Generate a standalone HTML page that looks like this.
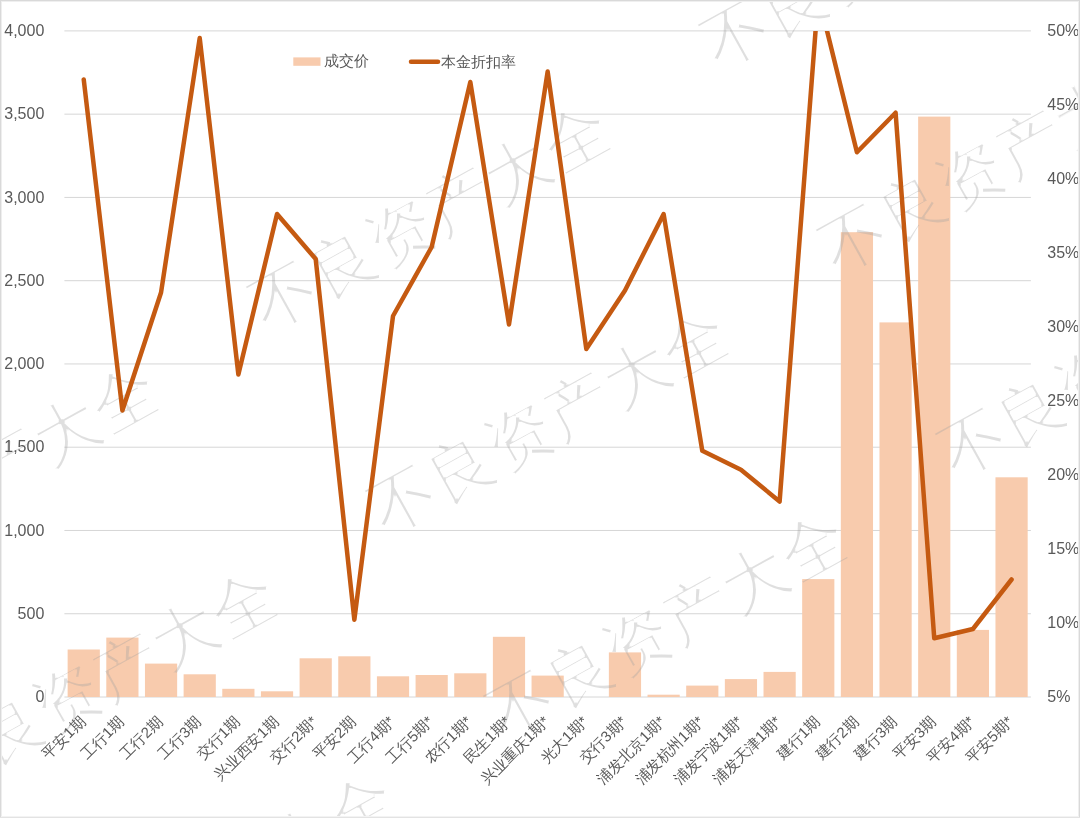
<!DOCTYPE html>
<html><head><meta charset="utf-8"><style>
html,body{margin:0;padding:0;background:#fff;}
body{width:1080px;height:818px;overflow:hidden;position:relative;font-family:"Liberation Sans",sans-serif;}
svg{position:absolute;left:0;top:0;}
.ax{font-family:"Liberation Sans",sans-serif;font-size:16px;fill:#595959;}
.lg{font-family:"Liberation Sans",sans-serif;font-size:15px;fill:#595959;}
.cat{font-family:"Liberation Sans",sans-serif;font-size:15px;fill:#595959;}
.wm{font-family:"Liberation Serif",serif;font-size:66px;fill:#a0a0a0;fill-opacity:0.34;}
</style></head><body>
<svg width="1080" height="818" viewBox="0 0 1080 818">
<rect x="0" y="0" width="1080" height="818" fill="#fff"/>

<line x1="64.4" y1="697.00" x2="1030.9" y2="697.00" stroke="#d6d6d6" stroke-width="1"/>
<line x1="64.4" y1="613.74" x2="1030.9" y2="613.74" stroke="#d6d6d6" stroke-width="1"/>
<line x1="64.4" y1="530.48" x2="1030.9" y2="530.48" stroke="#d6d6d6" stroke-width="1"/>
<line x1="64.4" y1="447.21" x2="1030.9" y2="447.21" stroke="#d6d6d6" stroke-width="1"/>
<line x1="64.4" y1="363.95" x2="1030.9" y2="363.95" stroke="#d6d6d6" stroke-width="1"/>
<line x1="64.4" y1="280.69" x2="1030.9" y2="280.69" stroke="#d6d6d6" stroke-width="1"/>
<line x1="64.4" y1="197.42" x2="1030.9" y2="197.42" stroke="#d6d6d6" stroke-width="1"/>
<line x1="64.4" y1="114.16" x2="1030.9" y2="114.16" stroke="#d6d6d6" stroke-width="1"/>
<line x1="64.4" y1="30.90" x2="1030.9" y2="30.90" stroke="#d6d6d6" stroke-width="1"/>
<rect x="67.63" y="649.50" width="32.20" height="47.50" fill="#f8cbad"/>
<rect x="106.29" y="637.60" width="32.20" height="59.40" fill="#f8cbad"/>
<rect x="144.95" y="663.60" width="32.20" height="33.40" fill="#f8cbad"/>
<rect x="183.61" y="674.30" width="32.20" height="22.70" fill="#f8cbad"/>
<rect x="222.27" y="688.80" width="32.20" height="8.20" fill="#f8cbad"/>
<rect x="260.93" y="691.30" width="32.20" height="5.70" fill="#f8cbad"/>
<rect x="299.59" y="658.30" width="32.20" height="38.70" fill="#f8cbad"/>
<rect x="338.25" y="656.30" width="32.20" height="40.70" fill="#f8cbad"/>
<rect x="376.91" y="676.30" width="32.20" height="20.70" fill="#f8cbad"/>
<rect x="415.57" y="675.00" width="32.20" height="22.00" fill="#f8cbad"/>
<rect x="454.23" y="673.30" width="32.20" height="23.70" fill="#f8cbad"/>
<rect x="492.89" y="636.80" width="32.20" height="60.20" fill="#f8cbad"/>
<rect x="531.55" y="675.60" width="32.20" height="21.40" fill="#f8cbad"/>
<rect x="608.87" y="652.40" width="32.20" height="44.60" fill="#f8cbad"/>
<rect x="647.53" y="694.70" width="32.20" height="2.30" fill="#f8cbad"/>
<rect x="686.19" y="685.60" width="32.20" height="11.40" fill="#f8cbad"/>
<rect x="724.85" y="679.10" width="32.20" height="17.90" fill="#f8cbad"/>
<rect x="763.51" y="671.90" width="32.20" height="25.10" fill="#f8cbad"/>
<rect x="802.17" y="579.10" width="32.20" height="117.90" fill="#f8cbad"/>
<rect x="840.83" y="232.20" width="32.20" height="464.80" fill="#f8cbad"/>
<rect x="879.49" y="322.40" width="32.20" height="374.60" fill="#f8cbad"/>
<rect x="918.15" y="116.60" width="32.20" height="580.40" fill="#f8cbad"/>
<rect x="956.81" y="629.90" width="32.20" height="67.10" fill="#f8cbad"/>
<rect x="995.47" y="477.30" width="32.20" height="219.70" fill="#f8cbad"/>
<filter id="thin" x="-5%" y="-5%" width="110%" height="110%"><feMorphology operator="erode" radius="0.85"/></filter><g class="wm" filter="url(#thin)"><text x="-50.5" y="494.3" text-anchor="middle" dominant-baseline="central" transform="rotate(-29 -50.5 494.3)">资</text><text x="8.0" y="462.8" text-anchor="middle" dominant-baseline="central" transform="rotate(-29 8.0 462.8)">产</text><text x="66.5" y="431.3" text-anchor="middle" dominant-baseline="central" transform="rotate(-29 66.5 431.3)">大</text><text x="125.0" y="399.8" text-anchor="middle" dominant-baseline="central" transform="rotate(-29 125.0 399.8)">全</text><text x="-49.0" y="761.8" text-anchor="middle" dominant-baseline="central" transform="rotate(-29 -49.0 761.8)">不</text><text x="9.5" y="730.3" text-anchor="middle" dominant-baseline="central" transform="rotate(-29 9.5 730.3)">良</text><text x="68.0" y="698.8" text-anchor="middle" dominant-baseline="central" transform="rotate(-29 68.0 698.8)">资</text><text x="126.5" y="667.3" text-anchor="middle" dominant-baseline="central" transform="rotate(-29 126.5 667.3)">产</text><text x="185.0" y="635.8" text-anchor="middle" dominant-baseline="central" transform="rotate(-29 185.0 635.8)">大</text><text x="243.5" y="604.3" text-anchor="middle" dominant-baseline="central" transform="rotate(-29 243.5 604.3)">全</text><text x="245.0" y="871.8" text-anchor="middle" dominant-baseline="central" transform="rotate(-29 245.0 871.8)">产</text><text x="303.5" y="840.3" text-anchor="middle" dominant-baseline="central" transform="rotate(-29 303.5 840.3)">大</text><text x="362.0" y="808.8" text-anchor="middle" dominant-baseline="central" transform="rotate(-29 362.0 808.8)">全</text><text x="284.0" y="296.0" text-anchor="middle" dominant-baseline="central" transform="rotate(-29 284.0 296.0)">不</text><text x="342.5" y="264.5" text-anchor="middle" dominant-baseline="central" transform="rotate(-29 342.5 264.5)">良</text><text x="401.0" y="233.0" text-anchor="middle" dominant-baseline="central" transform="rotate(-29 401.0 233.0)">资</text><text x="459.5" y="201.5" text-anchor="middle" dominant-baseline="central" transform="rotate(-29 459.5 201.5)">产</text><text x="518.0" y="170.0" text-anchor="middle" dominant-baseline="central" transform="rotate(-29 518.0 170.0)">大</text><text x="576.5" y="138.5" text-anchor="middle" dominant-baseline="central" transform="rotate(-29 576.5 138.5)">全</text><text x="402.5" y="500.5" text-anchor="middle" dominant-baseline="central" transform="rotate(-29 402.5 500.5)">不</text><text x="461.0" y="469.0" text-anchor="middle" dominant-baseline="central" transform="rotate(-29 461.0 469.0)">良</text><text x="519.5" y="437.5" text-anchor="middle" dominant-baseline="central" transform="rotate(-29 519.5 437.5)">资</text><text x="578.0" y="406.0" text-anchor="middle" dominant-baseline="central" transform="rotate(-29 578.0 406.0)">产</text><text x="636.5" y="374.5" text-anchor="middle" dominant-baseline="central" transform="rotate(-29 636.5 374.5)">大</text><text x="695.0" y="343.0" text-anchor="middle" dominant-baseline="central" transform="rotate(-29 695.0 343.0)">全</text><text x="521.0" y="705.0" text-anchor="middle" dominant-baseline="central" transform="rotate(-29 521.0 705.0)">不</text><text x="579.5" y="673.5" text-anchor="middle" dominant-baseline="central" transform="rotate(-29 579.5 673.5)">良</text><text x="638.0" y="642.0" text-anchor="middle" dominant-baseline="central" transform="rotate(-29 638.0 642.0)">资</text><text x="696.5" y="610.5" text-anchor="middle" dominant-baseline="central" transform="rotate(-29 696.5 610.5)">产</text><text x="755.0" y="579.0" text-anchor="middle" dominant-baseline="central" transform="rotate(-29 755.0 579.0)">大</text><text x="813.5" y="547.5" text-anchor="middle" dominant-baseline="central" transform="rotate(-29 813.5 547.5)">全</text><text x="735.5" y="34.7" text-anchor="middle" dominant-baseline="central" transform="rotate(-29 735.5 34.7)">不</text><text x="794.0" y="3.2" text-anchor="middle" dominant-baseline="central" transform="rotate(-29 794.0 3.2)">良</text><text x="852.5" y="-28.3" text-anchor="middle" dominant-baseline="central" transform="rotate(-29 852.5 -28.3)">资</text><text x="911.0" y="-59.8" text-anchor="middle" dominant-baseline="central" transform="rotate(-29 911.0 -59.8)">产</text><text x="854.0" y="239.2" text-anchor="middle" dominant-baseline="central" transform="rotate(-29 854.0 239.2)">不</text><text x="912.5" y="207.7" text-anchor="middle" dominant-baseline="central" transform="rotate(-29 912.5 207.7)">良</text><text x="971.0" y="176.2" text-anchor="middle" dominant-baseline="central" transform="rotate(-29 971.0 176.2)">资</text><text x="1029.5" y="144.7" text-anchor="middle" dominant-baseline="central" transform="rotate(-29 1029.5 144.7)">产</text><text x="1088.0" y="113.2" text-anchor="middle" dominant-baseline="central" transform="rotate(-29 1088.0 113.2)">大</text><text x="972.5" y="443.7" text-anchor="middle" dominant-baseline="central" transform="rotate(-29 972.5 443.7)">不</text><text x="1031.0" y="412.2" text-anchor="middle" dominant-baseline="central" transform="rotate(-29 1031.0 412.2)">良</text><text x="1089.5" y="380.7" text-anchor="middle" dominant-baseline="central" transform="rotate(-29 1089.5 380.7)">资</text></g>
<clipPath id="pc"><rect x="0" y="30.90" width="1080" height="787.10"/></clipPath>
<polyline clip-path="url(#pc)" points="83.73,79.50 122.39,410.50 161.05,292.50 199.71,38.00 238.37,374.50 277.03,214.00 315.69,259.00 354.35,619.80 393.01,316.00 431.67,247.00 470.33,82.00 508.99,324.50 547.65,71.50 586.31,349.00 624.97,290.50 663.63,214.00 702.29,450.80 740.95,469.70 779.61,501.50 818.27,-4.70 856.93,152.20 895.59,112.70 934.25,638.30 972.91,629.00 1011.57,579.50" fill="none" stroke="#c55a11" stroke-width="4.5" stroke-linejoin="round" stroke-linecap="round"/>
<text class="ax" x="44.3" y="702.20" text-anchor="end">0</text>
<text class="ax" x="44.3" y="618.94" text-anchor="end">500</text>
<text class="ax" x="44.3" y="535.68" text-anchor="end">1,000</text>
<text class="ax" x="44.3" y="452.41" text-anchor="end">1,500</text>
<text class="ax" x="44.3" y="369.15" text-anchor="end">2,000</text>
<text class="ax" x="44.3" y="285.89" text-anchor="end">2,500</text>
<text class="ax" x="44.3" y="202.62" text-anchor="end">3,000</text>
<text class="ax" x="44.3" y="119.36" text-anchor="end">3,500</text>
<text class="ax" x="44.3" y="36.10" text-anchor="end">4,000</text>
<text class="ax" x="1047.3" y="702.20">5%</text>
<text class="ax" x="1047.3" y="628.19">10%</text>
<text class="ax" x="1047.3" y="554.18">15%</text>
<text class="ax" x="1047.3" y="480.17">20%</text>
<text class="ax" x="1047.3" y="406.16">25%</text>
<text class="ax" x="1047.3" y="332.14">30%</text>
<text class="ax" x="1047.3" y="258.13">35%</text>
<text class="ax" x="1047.3" y="184.12">40%</text>
<text class="ax" x="1047.3" y="110.11">45%</text>
<text class="ax" x="1047.3" y="36.10">50%</text>
<rect x="293.3" y="57.4" width="27.2" height="8.4" fill="#f8cbad"/>
<text class="lg" x="323.8" y="66.3">成交价</text>
<line x1="411" y1="61.7" x2="438" y2="61.7" stroke="#c55a11" stroke-width="4.5" stroke-linecap="round"/>
<text class="lg" x="441" y="66.5">本金折扣率</text>
<text class="cat" x="82.23" y="718.50" text-anchor="end" dominant-baseline="central" transform="rotate(-45 82.23 718.50)">平安1期</text>
<text class="cat" x="120.89" y="718.50" text-anchor="end" dominant-baseline="central" transform="rotate(-45 120.89 718.50)">工行1期</text>
<text class="cat" x="159.55" y="718.50" text-anchor="end" dominant-baseline="central" transform="rotate(-45 159.55 718.50)">工行2期</text>
<text class="cat" x="198.21" y="718.50" text-anchor="end" dominant-baseline="central" transform="rotate(-45 198.21 718.50)">工行3期</text>
<text class="cat" x="236.87" y="718.50" text-anchor="end" dominant-baseline="central" transform="rotate(-45 236.87 718.50)">交行1期</text>
<text class="cat" x="275.53" y="718.50" text-anchor="end" dominant-baseline="central" transform="rotate(-45 275.53 718.50)">兴业西安1期</text>
<text class="cat" x="314.19" y="718.50" text-anchor="end" dominant-baseline="central" transform="rotate(-45 314.19 718.50)">交行2期*</text>
<text class="cat" x="352.85" y="718.50" text-anchor="end" dominant-baseline="central" transform="rotate(-45 352.85 718.50)">平安2期</text>
<text class="cat" x="391.51" y="718.50" text-anchor="end" dominant-baseline="central" transform="rotate(-45 391.51 718.50)">工行4期*</text>
<text class="cat" x="430.17" y="718.50" text-anchor="end" dominant-baseline="central" transform="rotate(-45 430.17 718.50)">工行5期*</text>
<text class="cat" x="468.83" y="718.50" text-anchor="end" dominant-baseline="central" transform="rotate(-45 468.83 718.50)">农行1期*</text>
<text class="cat" x="507.49" y="718.50" text-anchor="end" dominant-baseline="central" transform="rotate(-45 507.49 718.50)">民生1期*</text>
<text class="cat" x="546.15" y="718.50" text-anchor="end" dominant-baseline="central" transform="rotate(-45 546.15 718.50)">兴业重庆1期*</text>
<text class="cat" x="584.81" y="718.50" text-anchor="end" dominant-baseline="central" transform="rotate(-45 584.81 718.50)">光大1期*</text>
<text class="cat" x="623.47" y="718.50" text-anchor="end" dominant-baseline="central" transform="rotate(-45 623.47 718.50)">交行3期*</text>
<text class="cat" x="662.13" y="718.50" text-anchor="end" dominant-baseline="central" transform="rotate(-45 662.13 718.50)">浦发北京1期*</text>
<text class="cat" x="700.79" y="718.50" text-anchor="end" dominant-baseline="central" transform="rotate(-45 700.79 718.50)">浦发杭州1期*</text>
<text class="cat" x="739.45" y="718.50" text-anchor="end" dominant-baseline="central" transform="rotate(-45 739.45 718.50)">浦发宁波1期*</text>
<text class="cat" x="778.11" y="718.50" text-anchor="end" dominant-baseline="central" transform="rotate(-45 778.11 718.50)">浦发天津1期*</text>
<text class="cat" x="816.77" y="718.50" text-anchor="end" dominant-baseline="central" transform="rotate(-45 816.77 718.50)">建行1期</text>
<text class="cat" x="855.43" y="718.50" text-anchor="end" dominant-baseline="central" transform="rotate(-45 855.43 718.50)">建行2期</text>
<text class="cat" x="894.09" y="718.50" text-anchor="end" dominant-baseline="central" transform="rotate(-45 894.09 718.50)">建行3期</text>
<text class="cat" x="932.75" y="718.50" text-anchor="end" dominant-baseline="central" transform="rotate(-45 932.75 718.50)">平安3期</text>
<text class="cat" x="971.41" y="718.50" text-anchor="end" dominant-baseline="central" transform="rotate(-45 971.41 718.50)">平安4期*</text>
<text class="cat" x="1010.07" y="718.50" text-anchor="end" dominant-baseline="central" transform="rotate(-45 1010.07 718.50)">平安5期*</text>
<rect x="0" y="1" width="1080" height="1" fill="#efefef"/><rect x="1" y="0" width="1" height="818" fill="#eeeeee"/><rect x="1078" y="0" width="1" height="818" fill="#efefef"/><rect x="0" y="816" width="1080" height="1" fill="#f3f3f3"/>
<rect x="0" y="0" width="1080" height="1" fill="#d9d9d9"/><rect x="0" y="0" width="1" height="818" fill="#d9d9d9"/><rect x="1079" y="0" width="1" height="818" fill="#d9d9d9"/><rect x="0" y="817" width="1080" height="1" fill="#e3e3e3"/>
</svg>
</body></html>
